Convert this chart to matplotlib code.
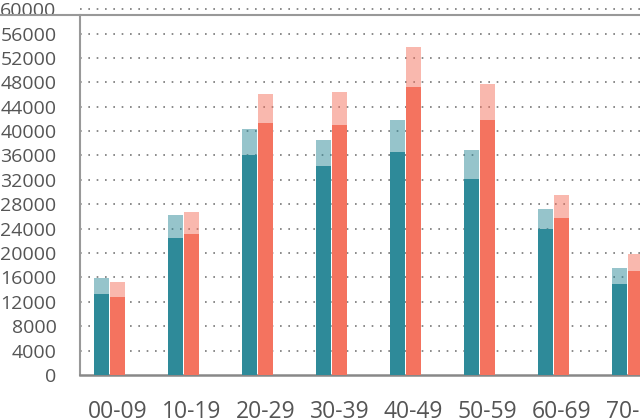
import matplotlib
matplotlib.use("Agg")
import matplotlib.pyplot as plt
import matplotlib.transforms as mtransforms
import numpy as np

# age groups and values
categories = ["00-09", "10-19", "20-29", "30-39", "40-49", "50-59", "60-69", "70-79"]
teal_base = [13300, 22500, 36000, 34300, 36500, 32200, 23900, 15000]
teal_total = [15850, 26200, 40400, 38500, 41800, 36900, 27300, 17600]
salmon_base = [12800, 23200, 41300, 41000, 47200, 41900, 25800, 17100]
salmon_total = [15200, 26800, 46100, 46400, 53800, 47700, 29500, 19800]
y_ticks = list(range(0, 60001, 4000))

teal = "#2e8a99"
salmon = "#f4735f"

plt.rcParams["font.family"] = ["Open Sans", "DejaVu Sans"]

fig = plt.figure(figsize=(6.4, 4.2), dpi=100)
ax = fig.add_axes([80 / 640, 45 / 420, 560 / 640, 375 / 420])

x = np.arange(len(categories))
w = 0.196
off = 0.108

teal_top = np.array(teal_total) - np.array(teal_base)
salmon_top = np.array(salmon_total) - np.array(salmon_base)

ax.bar(x - off, teal_base, w, color=teal, zorder=3)
ax.bar(x - off, teal_top, w, bottom=teal_base, color=teal, alpha=0.5, zorder=3)
ax.bar(x + off, salmon_base, w, color=salmon, zorder=3)
ax.bar(x + off, salmon_top, w, bottom=salmon_base, color=salmon, alpha=0.5, zorder=3)

ax.set_xlim(-0.399, 7.169)
ax.set_ylim(0, 61500)
ax.set_yticks(y_ticks)
ax.set_yticklabels([str(v) for v in y_ticks], fontsize=14, color="#555555")
ax.set_xticks(x)
ax.set_xticklabels(categories, fontsize=16.5, color="#555555")
ax.tick_params(axis="y", length=0, pad=17)
ax.tick_params(axis="x", length=0, pad=18)

# labels sit a little right of the bar groups
shift = mtransforms.ScaledTranslation(8 / 100, 0, fig.dpi_scale_trans)
for lbl in ax.get_xticklabels():
    lbl.set_transform(lbl.get_transform() + shift)

# dotted grid
for v in y_ticks[1:]:
    ax.axhline(v, color="#777777", lw=1.2, linestyle=(0, (1, 4)), zorder=1)

# top solid line across the whole width
ax.axhline(59100, xmin=-0.15, xmax=1, color="#999999", lw=1.5, clip_on=False, zorder=2)

for s in ["top", "right"]:
    ax.spines[s].set_visible(False)
ax.spines["left"].set_bounds(0, 59100)
ax.spines["left"].set_color("#999999")
ax.spines["left"].set_linewidth(1.5)
ax.spines["bottom"].set_color("#888888")
ax.spines["bottom"].set_linewidth(1.8)

plt.savefig("out.png", dpi=100)
